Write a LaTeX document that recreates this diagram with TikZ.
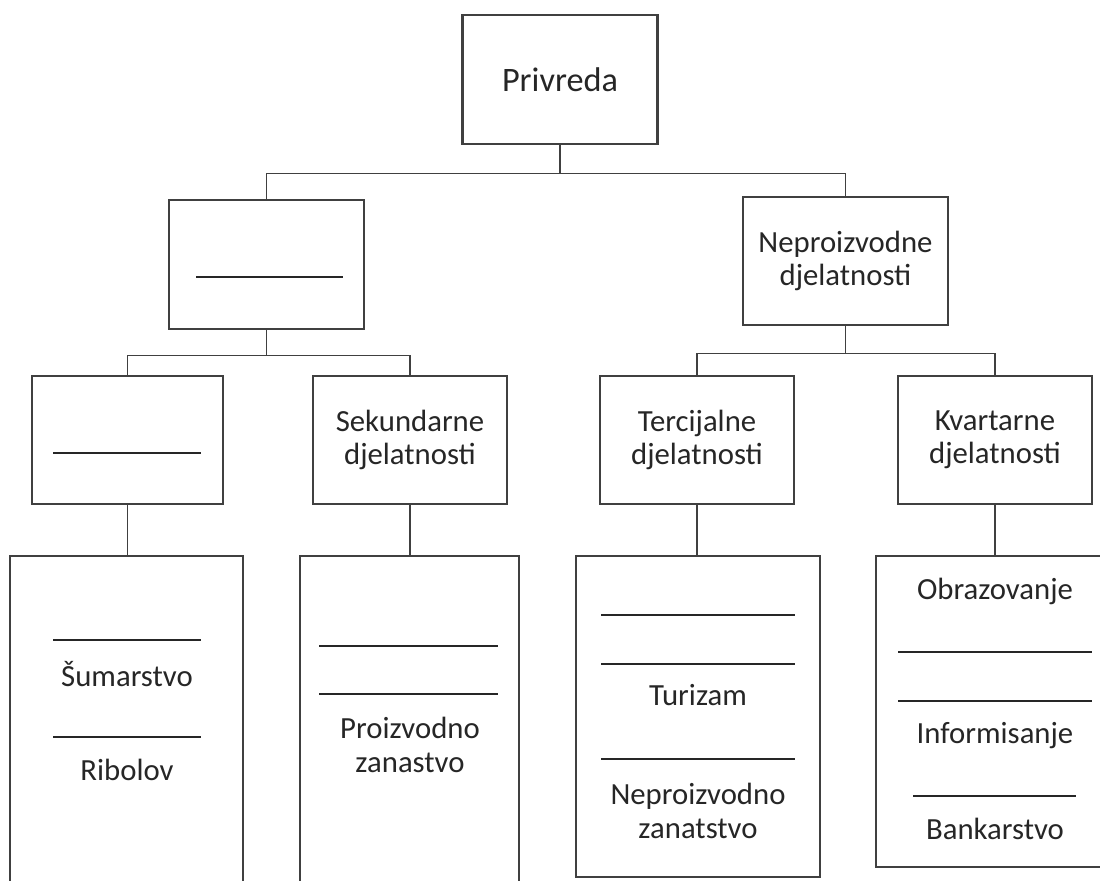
\documentclass[tikz,border=0pt]{standalone}
\usepackage{fontspec}
\setmainfont{Carlito}
\usepackage{xcolor}
\definecolor{boxgray}{HTML}{404040}
\definecolor{inkgray}{HTML}{262626}
\tikzset{box/.style={draw=boxgray, line width=1.6pt, inner sep=0pt, align=center,
   text=inkgray, font=\fontsize{17.5}{19}\selectfont},
 link/.style={draw=boxgray, line width=0.9pt},
 entry/.style={text=inkgray, font=\fontsize{17.5}{19}\selectfont, align=center, inner sep=0pt},
 blankline/.style={inner sep=0pt, text=inkgray},
 }

\begin{document}
\begin{tikzpicture}[x=0.02cm, y=-0.02cm]
        \useasboundingbox (0,0) rectangle (1100,881);
        \clip (0,0) rectangle (1100,881);
        \node [box, minimum width=3.9cm, minimum height=2.58cm, font=\fontsize{19.5}{21}\selectfont] (privreda) at (560,79.5) {Privreda};
        \node [box, minimum width=3.9cm, minimum height=2.58cm] (proizv) at (266.5,264.5) {};
        \node [box, minimum width=4.1cm, minimum height=2.56cm] (neproizv) at (845.5,261) {Neproizvodne\\djelatnosti};
        \node [box, minimum width=3.82cm, minimum height=2.56cm] (prim) at (127.5,440) {};
        \node [box, minimum width=3.88cm, minimum height=2.56cm] (sek) at (410,440) {Sekundarne\\djelatnosti};
        \node [box, minimum width=3.88cm, minimum height=2.56cm] (ter) at (697,440) {Tercijalne\\djelatnosti};
        \node [box, minimum width=3.88cm, minimum height=2.56cm] (kvar) at (995,440) {Kvartarne\\djelatnosti};
        \node [box, minimum width=4.66cm, minimum height=6.88cm] (primlist) at (126.5,728) {};
        \node [box, minimum width=4.38cm, minimum height=6.88cm] (seklist) at (409.5,728) {};
        \node [box, minimum width=4.88cm, minimum height=6.42cm] (terlist) at (698,716.5) {};
        \node [box, minimum width=4.84cm, minimum height=6.22cm] (kvarlist) at (997,711.5) {};
        \draw [link] (privreda.south) -- ++(0,28) -| (proizv.north);
        \draw [link] (privreda.south) -- ++(0,28) -| (neproizv.north);
        \draw [link] (proizv.south) -- ++(0,25) -| (prim.north);
        \draw [link] (proizv.south) -- ++(0,25) -| (sek.north);
        \draw [link] (neproizv.south) -- ++(0,27) -| (ter.north);
        \draw [link] (neproizv.south) -- ++(0,27) -| (kvar.north);
        \draw [link] (prim.south) -- (prim.south |- primlist.north);
        \draw [link] (sek.south) -- (sek.south |- seklist.north);
        \draw [link] (ter.south) -- (ter.south |- terlist.north);
        \draw [link] (kvar.south) -- (kvar.south |- kvarlist.north);
        \node [blankline] (proizvline) at (269.5,277) {\rule{2.94cm}{0.8pt}};
        \node [blankline] (primline) at (127,453) {\rule{2.96cm}{0.8pt}};
        \node [blankline] (primlineA) at (127,640) {\rule{2.96cm}{0.8pt}};
        \node [entry, anchor=base] (sumarstvo) at (127,686.5) {Šumarstvo};
        \node [blankline] (primlineB) at (127,737) {\rule{2.96cm}{0.8pt}};
        \node [entry, anchor=base] (ribolov) at (127,781) {Ribolov};
        \node [blankline] (seklineA) at (408.5,646) {\rule{3.58cm}{0.8pt}};
        \node [blankline] (seklineB) at (408.5,694) {\rule{3.58cm}{0.8pt}};
        \node [entry] (zanastvo) at (410,745) {Proizvodno\\zanastvo};
        \node [blankline] (terlineA) at (698,615) {\rule{3.88cm}{0.8pt}};
        \node [blankline] (terlineB) at (698,664) {\rule{3.88cm}{0.8pt}};
        \node [entry, anchor=base] (turizam) at (698,706) {Turizam};
        \node [blankline] (terlineC) at (698,759) {\rule{3.88cm}{0.8pt}};
        \node [entry] (zanatstvo) at (698,811) {Neproizvodno\\zanatstvo};
        \node [entry, anchor=base] (obrazovanje) at (995,600) {Obrazovanje};
        \node [blankline] (kvarlineA) at (995,652) {\rule{3.88cm}{0.8pt}};
        \node [blankline] (kvarlineB) at (995,701) {\rule{3.88cm}{0.8pt}};
        \node [entry, anchor=base] (informisanje) at (995,744) {Informisanje};
        \node [blankline] (kvarlineC) at (994.5,796) {\rule{3.26cm}{0.8pt}};
        \node [entry, anchor=base] (bankarstvo) at (995,840) {Bankarstvo};
    \end{tikzpicture}
\end{document}
